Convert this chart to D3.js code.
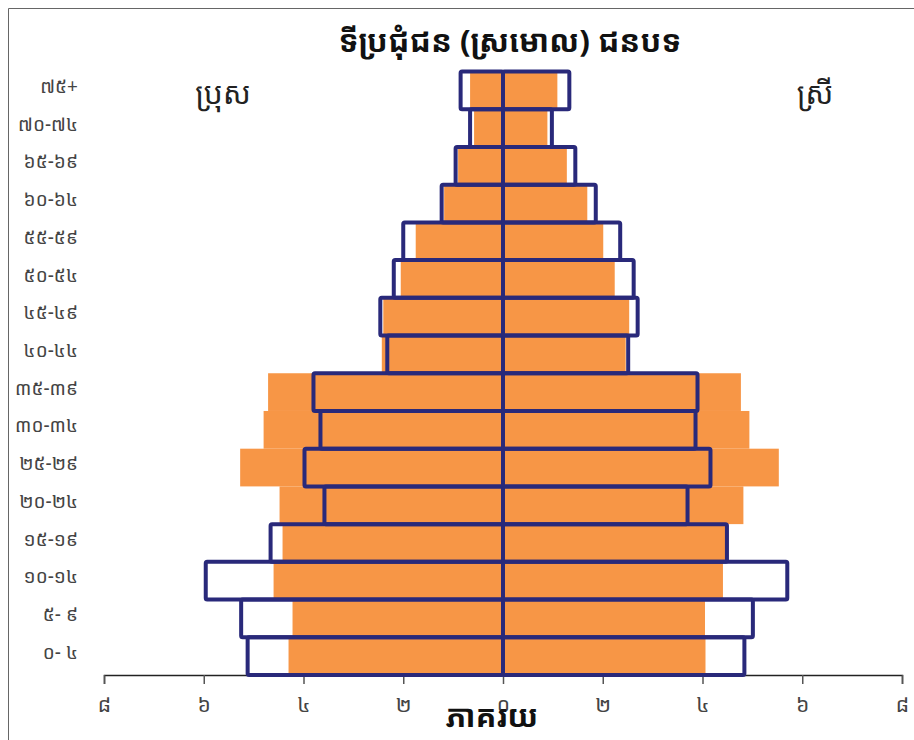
<!DOCTYPE html>
<html>
<head>
<meta charset="utf-8">
<script src="https://cdn.jsdelivr.net/npm/d3@7"></script>
<style>
  body { margin: 0; background: #fff; }
  svg text { font-family: "Khmer OS", "Noto Sans Khmer", "Noto Serif Khmer", "Khmer OS System", sans-serif; }
</style>
</head>
<body>
<script>
// age groups, bottom to top
var ageGroups = ["០- ៤", "៥- ៩", "១០-១៤", "១៥-១៩", "២០-២៤", "២៥-២៩", "៣០-៣៤", "៣៥-៣៩",
                 "៤០-៤៤", "៤៥-៤៩", "៥០-៥៤", "៥៥-៥៩", "៦០-៦៤", "៦៥-៦៩", "៧០-៧៤", "៧៥+"];

// urban (orange, shadow) in percent
var maleUrban   = [4.30, 4.22, 4.60, 4.42, 4.48, 5.27, 4.80, 4.71, 2.43, 2.40, 2.05, 1.75, 1.18, 0.90, 0.58, 0.66];
var femaleUrban = [4.06, 4.05, 4.41, 4.47, 4.82, 5.53, 4.94, 4.77, 2.46, 2.53, 2.24, 2.01, 1.69, 1.28, 0.89, 1.09];

// rural (outlined bars) in percent
var maleRural   = [5.12, 5.25, 5.96, 4.66, 3.58, 3.98, 3.66, 3.80, 2.32, 2.46, 2.19, 2.00, 1.23, 0.95, 0.66, 0.85];
var femaleRural = [4.84, 5.01, 5.70, 4.49, 3.70, 4.16, 3.86, 3.90, 2.51, 2.70, 2.62, 2.35, 1.86, 1.45, 0.98, 1.33];

var tickValues = [-8, -6, -4, -2, 0, 2, 4, 6, 8];
var khmerDigits = ["០", "១", "២", "៣", "៤", "៥", "៦", "៧", "៨", "៩"];

var titre = "ទីប្រជុំជន (ស្រមោល) ជនបទ";
var hommes = "ប្រុស";
var femmes = "ស្រី";
var axeTitre = "ភាគរយ";

var vis = {
  width: 914,
  height: 740,
  left: 104,
  right: 902,
  top: 71.5,
  bottom: 675,
  orange: "#f79646",
  bleu: "#29297a"
};

var svg = d3.select("body").append("svg")
  .attr("width", vis.width)
  .attr("height", vis.height);

// frame
svg.append("line").attr("x1", 8.5).attr("x2", 914).attr("y1", 8.5).attr("y2", 8.5)
  .attr("stroke", "#666").attr("stroke-width", 1);
svg.append("line").attr("x1", 8.5).attr("x2", 8.5).attr("y1", 8.5).attr("y2", 740)
  .attr("stroke", "#666").attr("stroke-width", 1);

var x = d3.scaleLinear().domain([-8, 8]).range([vis.left, vis.right]);
var y = d3.scaleBand().domain(ageGroups.slice().reverse()).range([vis.top, vis.bottom]).padding(0);

function toKhmer(n) {
  return String(Math.abs(n)).split("").map(function(c) { return khmerDigits[+c]; }).join("");
}

// orange bars
var orangeData = ageGroups.map(function(a, i) {
  return { age: a, m: maleUrban[i], f: femaleUrban[i] };
});
svg.selectAll("rect.um").data(orangeData).enter().append("rect")
  .attr("class", "um")
  .attr("x", function(d) { return x(-d.m); })
  .attr("y", function(d) { return y(d.age); })
  .attr("width", function(d) { return x(0) - x(-d.m); })
  .attr("height", y.bandwidth())
  .attr("fill", vis.orange);
svg.selectAll("rect.uf").data(orangeData).enter().append("rect")
  .attr("class", "uf")
  .attr("x", x(0))
  .attr("y", function(d) { return y(d.age); })
  .attr("width", function(d) { return x(d.f) - x(0); })
  .attr("height", y.bandwidth())
  .attr("fill", vis.orange);

// axis
var axe = svg.append("g")
  .attr("transform", "translate(0," + vis.bottom + ")")
  .call(d3.axisBottom(x).tickValues(tickValues).tickSize(9).tickPadding(13).tickFormat(toKhmer));
axe.select(".domain").attr("stroke", "#222").attr("stroke-width", 1.5);
axe.selectAll(".tick line").attr("stroke", "#555").attr("stroke-width", 1.5);
axe.selectAll(".tick text").attr("font-size", 21).attr("fill", "#444")
  .style("font-family", "'Khmer OS', 'Noto Sans Khmer', sans-serif");

// outlined bars
var ruralData = ageGroups.map(function(a, i) {
  return { age: a, m: maleRural[i], f: femaleRural[i] };
});
svg.selectAll("rect.rm").data(ruralData).enter().append("rect")
  .attr("class", "rm")
  .attr("x", function(d) { return x(-d.m); })
  .attr("y", function(d) { return y(d.age); })
  .attr("width", function(d) { return x(0) - x(-d.m); })
  .attr("height", y.bandwidth())
  .attr("rx", 1.5)
  .attr("fill", "none")
  .attr("stroke", vis.bleu)
  .attr("stroke-width", 4);
svg.selectAll("rect.rf").data(ruralData).enter().append("rect")
  .attr("class", "rf")
  .attr("x", x(0))
  .attr("y", function(d) { return y(d.age); })
  .attr("width", function(d) { return x(d.f) - x(0); })
  .attr("height", y.bandwidth())
  .attr("rx", 1.5)
  .attr("fill", "none")
  .attr("stroke", vis.bleu)
  .attr("stroke-width", 4);

// age labels
svg.selectAll("text.age").data(ageGroups).enter().append("text")
  .attr("class", "age")
  .attr("x", 78)
  .attr("y", function(d) { return y(d) + y.bandwidth() / 2 - 4; })
  .attr("dy", "0.35em")
  .attr("text-anchor", "end")
  .attr("font-size", 19)
  .attr("fill", "#444")
  .text(function(d) { return d; });

// titles
svg.append("text").attr("x", 510).attr("y", 52).attr("text-anchor", "middle")
  .attr("font-size", 31).attr("font-weight", "bold").attr("fill", "#111").text(titre);
svg.append("text").attr("x", 223).attr("y", 104).attr("text-anchor", "middle")
  .attr("font-size", 30).attr("fill", "#222").text(hommes);
svg.append("text").attr("x", 815).attr("y", 104).attr("text-anchor", "middle")
  .attr("font-size", 30).attr("fill", "#222").text(femmes);
svg.append("text").attr("x", 492).attr("y", 727).attr("text-anchor", "middle")
  .attr("font-size", 31).attr("font-weight", "bold").attr("fill", "#111").text(axeTitre);
</script>
</body>
</html>
